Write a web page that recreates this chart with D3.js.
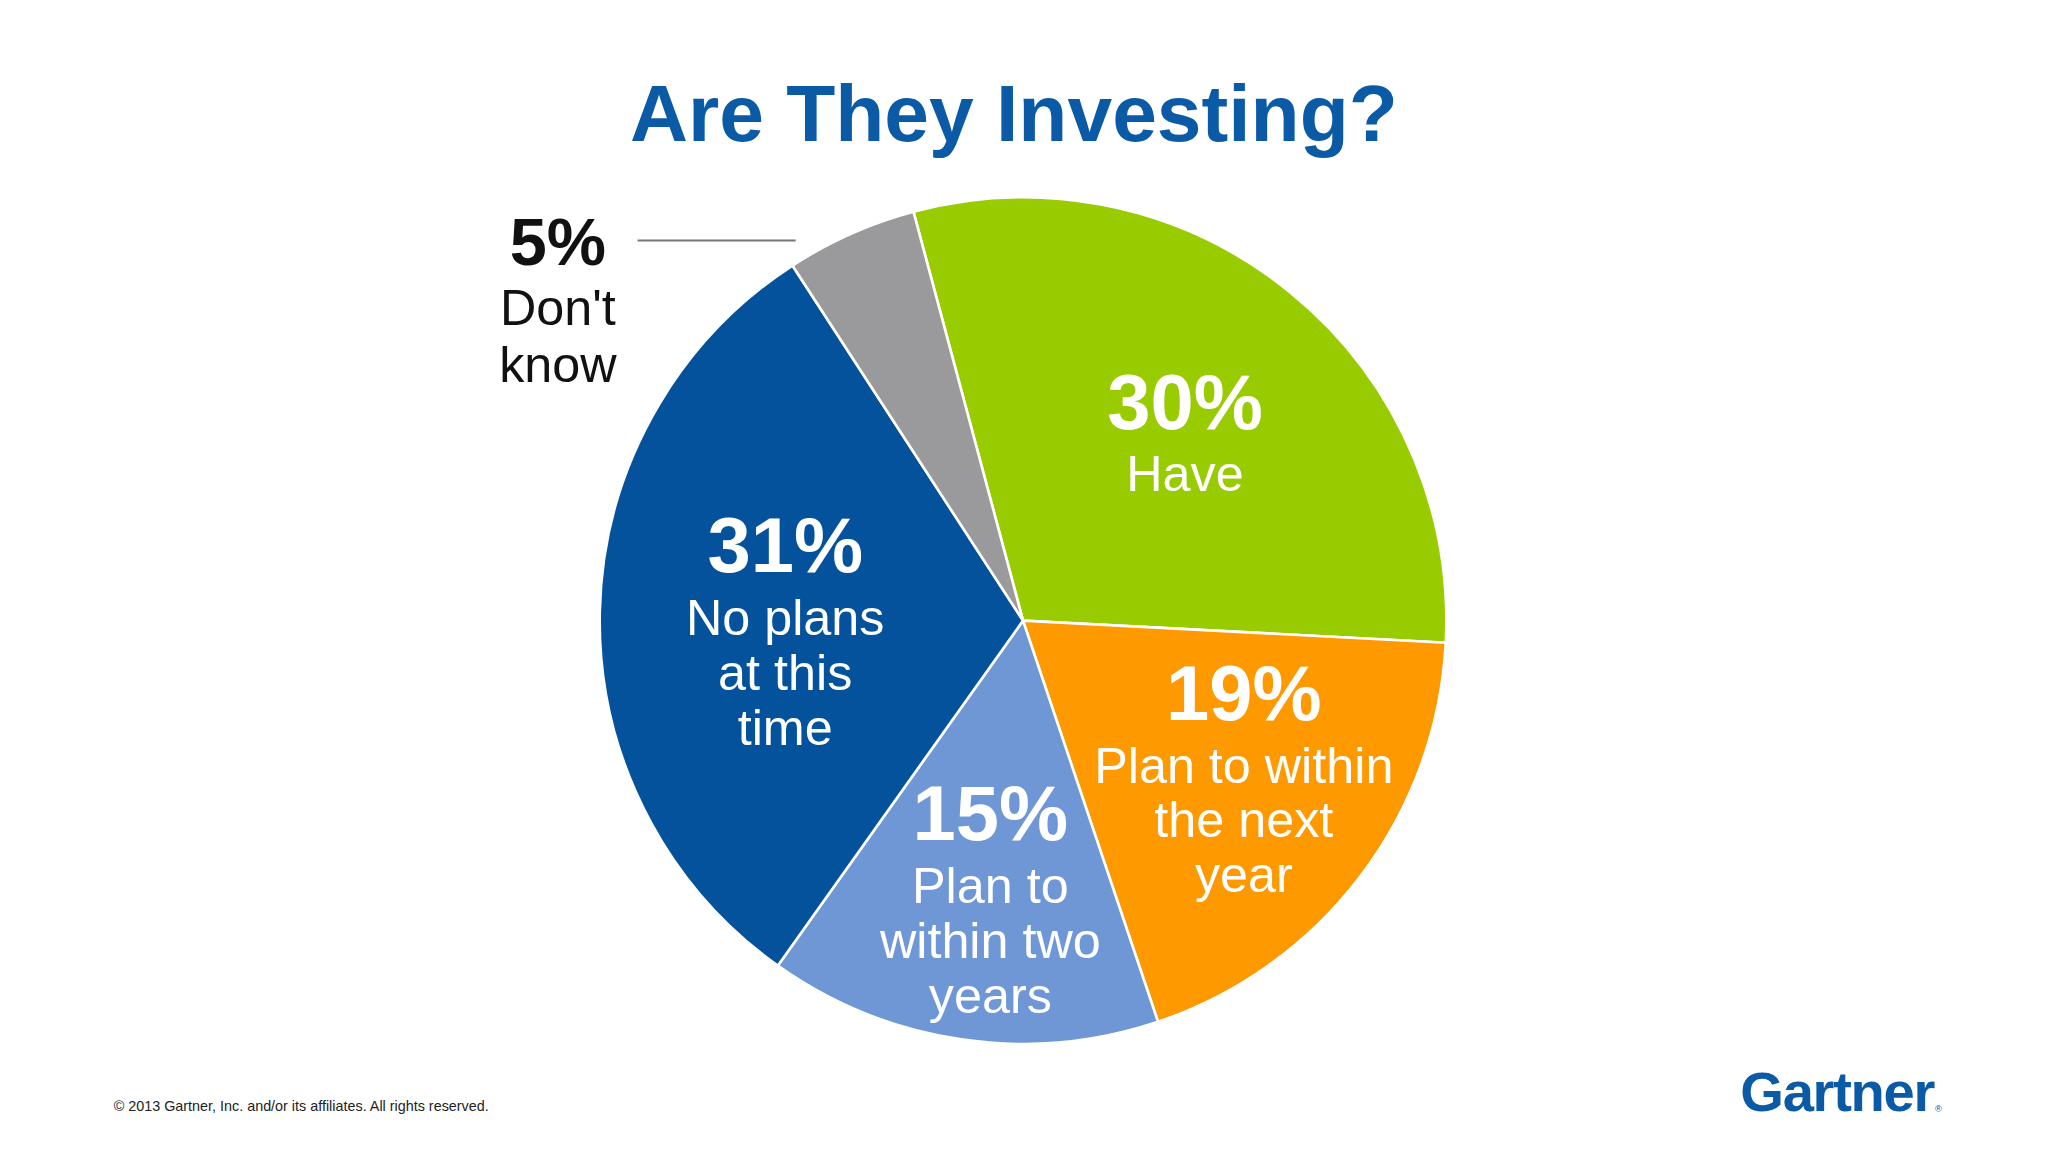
<!DOCTYPE html>
<html><head><meta charset="utf-8">
<script src="https://cdn.jsdelivr.net/npm/d3@7"></script>
<style>body{margin:0;background:#fff}</style></head>
<body><svg id="c" width="2048" height="1152"></svg>
<script>
const categories = ["Have","Plan to within the next year","Plan to within two years","No plans at this time","Don't know"];
const values = [30,19,15,31,5];
const pctLabels = ["30%","19%","15%","31%","5%"];
const textLines = [["Have"],["Plan to within","the next","year"],["Plan to","within two","years"],["No plans","at this","time"],["Don't","know"]];
const colors = ["#99cc00","#ff9900","#6f97d6","#03529b","#9a999b"];
// layout (label anchor points in design units)
const labelPos = [[907,328],[952,551],[758,643],[601,438],[427,203]];
const textColors = ["#fff","#fff","#fff","#fff","#111"];

const s = 2048/1552/1.01;
const svg = d3.select("#c");
const g = svg.append("g").attr("transform",`scale(${s})`);
const cx=783, cy=475, R=324;
const F = "Liberation Sans, Arial, sans-serif";

g.append("text").attr("x",776).attr("y",108).attr("text-anchor","middle")
 .attr("font-family",F).attr("font-weight","bold").attr("font-size",61.5).attr("fill","#0b5aa6")
 .text("Are They Investing?");

const pie = d3.pie().sort(null).value(d=>d).startAngle(-15*Math.PI/180).endAngle(345*Math.PI/180);
const arc = d3.arc().innerRadius(0).outerRadius(R);
const pg = g.append("g").attr("transform",`translate(${cx},${cy})`);
pg.selectAll("path").data(pie(values)).join("path")
 .attr("d",arc).attr("fill",(d,i)=>colors[i]).attr("stroke","#fff").attr("stroke-width",2);

g.append("line").attr("x1",488).attr("x2",609).attr("y1",184).attr("y2",184).attr("stroke","#777").attr("stroke-width",1.5);

values.forEach((v,i)=>{
  const [x,y]=labelPos[i];
  const t = g.append("text").attr("text-anchor","middle").attr("font-family",F).attr("fill",textColors[i]);
  t.append("tspan").attr("x",x).attr("y",y).attr("font-weight","bold").attr("font-size",i==4?51:59.5).text(pctLabels[i]);
  textLines[i].forEach((l,j)=>{
    t.append("tspan").attr("x",x).attr("y",y+(i==4?46:48)+j*(i==4?43:42)).attr("font-size",38.5).text(l);
  });
});

g.append("text").attr("x",87).attr("y",850).attr("font-family",F).attr("font-size",11).attr("fill","#222")
 .text("© 2013 Gartner, Inc. and/or its affiliates. All rights reserved.");
g.append("text").attr("x",1332).attr("y",850).attr("font-family",F).attr("font-weight","bold").attr("font-size",43)
 .attr("letter-spacing",-1).attr("fill","#0b5aa6").text("Gartner");
g.append("text").attr("x",1481).attr("y",851).attr("font-family",F).attr("font-size",7).attr("fill","#0b5aa6").text("®");
</script></body></html>
